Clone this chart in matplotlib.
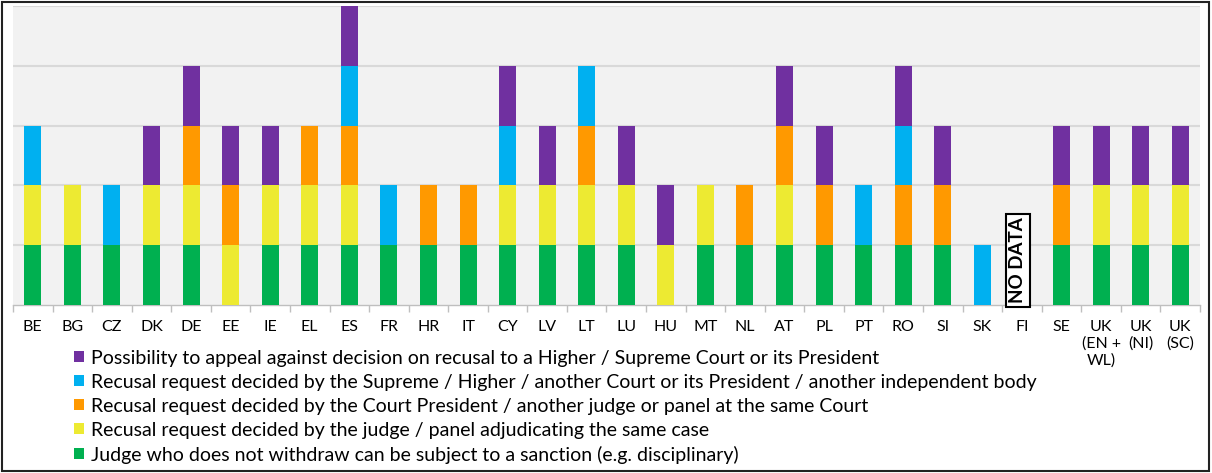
import matplotlib
matplotlib.use("Agg")
import matplotlib.pyplot as plt
from matplotlib.patches import Patch, Rectangle
import numpy as np

plt.rcParams['font.family'] = ['Lato', 'DejaVu Sans']

countries = ["BE", "BG", "CZ", "DK", "DE", "EE", "IE", "EL", "ES", "FR", "HR", "IT",
             "CY", "LV", "LT", "LU", "HU", "MT", "NL", "AT", "PL", "PT", "RO", "SI",
             "SK", "FI", "SE", "UK\n(EN +\nWL)", "UK\n(NI)", "UK\n(SC)"]

# 1 = the feature is present in the country's system, 0 = absent
sanction = [1, 1, 1, 1, 1, 0, 1, 1, 1, 1, 1, 1, 1, 1, 1, 1, 0, 1, 1, 1, 1, 1, 1, 1, 0, 0, 1, 1, 1, 1]
same_judge = [1, 1, 0, 1, 1, 1, 1, 1, 1, 0, 0, 0, 1, 1, 1, 1, 1, 1, 0, 1, 0, 0, 0, 0, 0, 0, 0, 1, 1, 1]
court_president = [0, 0, 0, 0, 1, 1, 0, 1, 1, 0, 1, 1, 0, 0, 1, 0, 0, 0, 1, 1, 1, 0, 1, 1, 0, 0, 1, 0, 0, 0]
higher_court = [1, 0, 1, 0, 0, 0, 0, 0, 1, 1, 0, 0, 1, 0, 1, 0, 0, 0, 0, 0, 0, 1, 1, 0, 1, 0, 0, 0, 0, 0]
appeal = [0, 0, 0, 1, 1, 1, 1, 0, 1, 0, 0, 0, 1, 1, 0, 1, 1, 0, 0, 1, 1, 0, 1, 1, 0, 0, 1, 1, 1, 1]

series_labels = [
    "Judge who does not withdraw can be subject to a sanction (e.g. disciplinary)",
    "Recusal request decided by the judge / panel adjudicating the same case",
    "Recusal request decided by the Court President / another judge or panel at the same Court",
    "Recusal request decided by the Supreme / Higher / another Court or its President / another independent body",
    "Possibility to appeal against decision on recusal to a Higher / Supreme Court or its President",
]
series_colors = ["#00B050", "#EDEA32", "#FF9900", "#00B0F0", "#7030A0"]
series_values = [sanction, same_judge, court_president, higher_court, appeal]

no_data = "FI"

W, H = 1212, 473
fig = plt.figure(figsize=(W / 100, H / 100), dpi=100)
ax = fig.add_axes([13 / W, (H - 305) / H, 1187 / W, 299 / H])
ax.set_facecolor("#F2F2F2")

x = np.arange(len(countries))
bottom = np.zeros(len(countries))
for vals, col in zip(series_values, series_colors):
    v = np.array(vals, dtype=float)
    ax.bar(x, v, width=0.43, bottom=bottom, color=col, edgecolor="none", zorder=3)
    bottom += v

ax.set_xlim(-0.5, len(countries) - 0.5)
ax.set_ylim(0, 5)
ax.set_yticks([1, 2, 3, 4, 5])
ax.yaxis.grid(True, color="#D9D9D9", linewidth=1.5, zorder=0)
ax.tick_params(axis="y", left=False, labelleft=False)
for s in ["top", "right", "left"]:
    ax.spines[s].set_visible(False)
ax.spines["bottom"].set_color("#BFBFBF")
ax.spines["bottom"].set_linewidth(1.0)

ax.set_xticks(x)
ax.set_xticklabels(countries, fontsize=11.5, linespacing=1.2, va="top")
ax.tick_params(axis="x", length=0, pad=11)
ax.set_xticks(np.arange(len(countries) + 1) - 0.5, minor=True)
ax.tick_params(axis="x", which="minor", length=5, color="#BFBFBF", width=1)

fi = countries.index(no_data)
ax.text(fi - 0.1, 0.75, "NO DATA", rotation=90, ha="center", va="center",
        fontsize=13.5, fontweight="bold", color="black", zorder=4,
        bbox=dict(boxstyle="square,pad=0.2", facecolor="white", edgecolor="black", linewidth=1.5))

handles = [Patch(facecolor=c, edgecolor="none") for c in series_colors][::-1]
fig.legend(handles, series_labels[::-1], loc="upper left",
           bbox_to_anchor=(66 / W, 1 - 342 / H), frameon=False, fontsize=14,
           handlelength=0.5, handleheight=0.5, handletextpad=0.4,
           labelspacing=0.36, borderaxespad=0)

fig.patches.append(Rectangle((2 / W, 2 / H), 1 - 5 / W, 1 - 4 / H, transform=fig.transFigure,
                             fill=False, edgecolor="#222222", linewidth=1.5))

fig.savefig("out.png", dpi=100)
